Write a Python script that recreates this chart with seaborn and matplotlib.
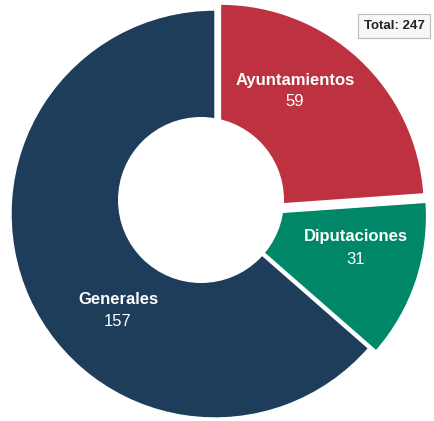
import matplotlib
matplotlib.use("Agg")
import matplotlib.pyplot as plt
import seaborn as sns
import numpy as np
from matplotlib.patches import Circle

categories = ["Ayuntamientos", "Diputaciones", "Generales"]
values = [59, 31, 157]
colors = ["#BE3140", "#008768", "#1E3D5A"]
total_label = "Total: 247"

sns.set_theme(style="white")
plt.rcParams['font.family'] = ['Liberation Sans', 'DejaVu Sans']

W, H = 434, 421
fig = plt.figure(figsize=(W / 100, H / 100), dpi=100)
ax = fig.add_axes([0, 0, 1, 1])

cx, cy = 215, H - 214
R = 204
wedges, _ = ax.pie(values, colors=colors, startangle=90, counterclock=False,
                   center=(cx, cy), radius=R, explode=[8, 8, 0],
                   wedgeprops=dict(edgecolor="white", linewidth=1.0))
ax.set_xlim(0, W)
ax.set_ylim(0, H)
ax.set_aspect('equal')
ax.axis('off')

ax.add_patch(Circle((201, H - 200), 83, facecolor="white", edgecolor="none", zorder=5))

label_pos = {"Ayuntamientos": (295, 80), "Diputaciones": (356, 237), "Generales": (118, 300)}
for cat, val in zip(categories, values):
    x, y = label_pos[cat]
    ax.text(x, H - y, cat, color="white", fontsize=12, fontweight="bold",
            ha="center", va="center", zorder=6)
    ax.text(x, H - y - 22, str(val), color="white", fontsize=12,
            ha="center", va="center", zorder=6)

ax.text(394, H - 26, total_label, fontsize=9.5, fontweight="bold", color="#222222",
        ha="center", va="center", zorder=7,
        bbox=dict(boxstyle="square,pad=0.45", facecolor="#f7f7f7", edgecolor="#bbbbbb", linewidth=0.8))

fig.savefig("out.png", dpi=100)
